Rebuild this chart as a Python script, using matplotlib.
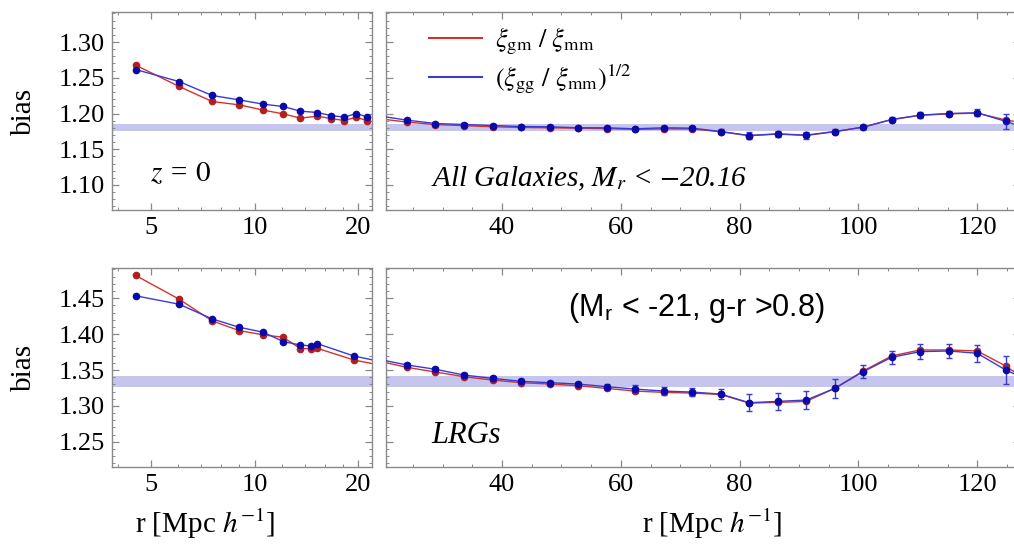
import matplotlib
matplotlib.use("Agg")
import matplotlib.pyplot as plt
import numpy as np
from matplotlib.ticker import FixedLocator, FuncFormatter, MultipleLocator

plt.rcParams['font.family'] = ['Liberation Serif', 'DejaVu Serif']
plt.rcParams['mathtext.fontset'] = 'stix'

# small scales (log r), all galaxies
r_small = [4.51, 6.03, 7.52, 9.01, 10.59, 12.1, 13.56, 15.2, 16.6, 18.2, 19.7, 21.2]
gm_small = [1.2676, 1.2378, 1.2168, 1.2121, 1.2047, 1.1995, 1.1935, 1.1963, 1.1930, 1.1902, 1.1949, 1.1898]
gg_small = [1.2615, 1.2447, 1.2252, 1.2191, 1.2130, 1.2098, 1.2033, 1.2014, 1.1972, 1.1949, 1.2000, 1.1953]

# small scales (log r), LRGs
r_small_lrg = [4.51, 6.03, 7.52, 9.01, 10.59, 12.1, 13.56, 14.53, 15.17, 19.38, 23.0]
gm_small_lrg = [1.4816, 1.4486, 1.4184, 1.4049, 1.3989, 1.3956, 1.3798, 1.3798, 1.3803, 1.3640, 1.3570]
gg_small_lrg = [1.4533, 1.4416, 1.4212, 1.4095, 1.4026, 1.3895, 1.3849, 1.3835, 1.3868, 1.3696, 1.3620]

# large scales (linear r), 4.8 Mpc/h bins
r_large = [19.2, 24.0, 28.8, 33.6, 38.4, 43.2, 48.0, 52.8, 57.6, 62.4, 67.2, 72.0, 76.8,
           81.6, 86.4, 91.2, 96.0, 100.8, 105.6, 110.4, 115.2, 120.0, 124.8, 129.6]

gm_all = [1.1928, 1.1880, 1.1845, 1.1830, 1.1815, 1.1805, 1.1800, 1.1795, 1.1788, 1.1778, 1.1785, 1.1783,
          1.1745, 1.1690, 1.1712, 1.1693, 1.1745, 1.1810, 1.1915, 1.1975, 1.1995, 1.2005, 1.1910, 1.1840]
gg_all = [1.1968, 1.1907, 1.1860, 1.1846, 1.1832, 1.1818, 1.1814, 1.1800, 1.1800, 1.1786, 1.1800, 1.1795,
          1.1748, 1.1692, 1.1716, 1.1697, 1.1748, 1.1809, 1.1916, 1.1977, 1.2000, 1.2010, 1.1890, 1.1760]
err_all = [0.002, 0.002, 0.002, 0.002, 0.002, 0.002, 0.002, 0.002, 0.002, 0.002, 0.002, 0.0025,
           0.003, 0.0045, 0.0045, 0.005, 0.004, 0.003, 0.003, 0.004, 0.004, 0.005, 0.0105, 0.011]

gm_lrg = [1.3625, 1.3537, 1.3472, 1.3407, 1.3360, 1.3324, 1.3305, 1.3282, 1.3244, 1.3207, 1.3189, 1.3179,
          1.3160, 1.3040, 1.3049, 1.3063, 1.3244, 1.3486, 1.3696, 1.3779, 1.3779, 1.3765, 1.3556, 1.3280]
gg_lrg = [1.3650, 1.3570, 1.3510, 1.3430, 1.3384, 1.3342, 1.3324, 1.3305, 1.3268, 1.3235, 1.3207, 1.3193,
          1.3165, 1.3045, 1.3063, 1.3082, 1.3244, 1.3477, 1.3677, 1.3756, 1.3765, 1.3733, 1.3500, 1.3320]
err_lrg = [0.003, 0.003, 0.003, 0.003, 0.003, 0.003, 0.003, 0.003, 0.004, 0.005, 0.006, 0.006,
           0.007, 0.0115, 0.012, 0.012, 0.0135, 0.009, 0.009, 0.01, 0.01, 0.012, 0.02, 0.02]

# linear-theory bias bands
band_all = (1.175, 1.186)
band_lrg = (1.327, 1.342)

RED_LINE, RED_PT = '#d2342c', '#b3201c'
BLUE_LINE, BLUE_PT = '#3a3ad6', '#0a0aa8'
BAND = '#c5c5ee'
FRAME = '#8a8a8a'

fig = plt.figure(figsize=(10.14, 5.46), dpi=100)
W, H = 1014.0, 546.0


def px_axes(x0, y0, x1, y1):
    return fig.add_axes([x0 / W, 1 - y1 / H, (x1 - x0) / W, (y1 - y0) / H])


ax_tl = px_axes(112, 12, 372, 210)
ax_tr = px_axes(386, 12, 1020, 210)
ax_bl = px_axes(112, 268, 372, 467)
ax_br = px_axes(386, 268, 1020, 467)


def style(ax, ylim, logx):
    for s in ax.spines.values():
        s.set_color(FRAME)
        s.set_linewidth(1.0)
    ax.set_ylim(*ylim)
    ax.yaxis.set_major_locator(MultipleLocator(0.05))
    ax.yaxis.set_minor_locator(MultipleLocator(0.01))
    ax.yaxis.set_major_formatter(FuncFormatter(lambda v, p: f"{v:.2f}"))
    if logx:
        ax.set_xscale('log')
        ax.set_xlim(3.85, 21.9)
        ax.xaxis.set_major_locator(FixedLocator([5, 10, 20]))
        ax.xaxis.set_minor_locator(FixedLocator([4, 6, 7, 8, 9, 12, 14, 16, 18]))
        ax.xaxis.set_major_formatter(FuncFormatter(lambda v, p: f"{v:g}"))
        ax.xaxis.set_minor_formatter(FuncFormatter(lambda v, p: ""))
    else:
        ax.set_xlim(20.47, 127.2)
        ax.xaxis.set_major_locator(MultipleLocator(20))
        ax.xaxis.set_minor_locator(MultipleLocator(5))
    ax.tick_params(which='both', direction='in', top=True, right=True,
                   color=FRAME, labelsize=19, labelcolor='black')
    ax.tick_params(which='major', length=5, width=0.9, pad=5)
    ax.tick_params(which='minor', length=2.5, width=0.7)


def draw_small(ax, r, gm, gg, band):
    ax.axhspan(*band, color=BAND, lw=0, zorder=1)
    ax.plot(r, gm, '-', color=RED_LINE, lw=1.0, zorder=2)
    ax.plot(r, gm, 'o', color=RED_PT, ms=4.5, zorder=3)
    ax.plot(r, gg, '-', color=BLUE_LINE, lw=1.0, zorder=4)
    ax.plot(r, gg, 'o', color=BLUE_PT, ms=4.5, zorder=5)


def draw_large(ax, r, gm, gg, err, band):
    ax.axhspan(*band, color=BAND, lw=0, zorder=1)
    ax.plot(r, gm, '-', color=RED_LINE, lw=1.0, zorder=2)
    ax.plot(r, gm, 'o', color=RED_PT, ms=4.5, zorder=3)
    ax.plot(r, gg, '-', color=BLUE_LINE, lw=1.0, zorder=4)
    ax.errorbar(r, gg, yerr=err, fmt='o', color=BLUE_PT, ms=4.5, elinewidth=1.0,
                capsize=2.5, capthick=1.0, ecolor=BLUE_LINE, zorder=5)


draw_small(ax_tl, r_small, gm_small, gg_small, band_all)
draw_small(ax_bl, r_small_lrg, gm_small_lrg, gg_small_lrg, band_lrg)
draw_large(ax_tr, r_large, gm_all, gg_all, err_all, band_all)
draw_large(ax_br, r_large, gm_lrg, gg_lrg, err_lrg, band_lrg)

style(ax_tl, (1.065, 1.342), True)
style(ax_tr, (1.065, 1.342), False)
style(ax_bl, (1.215, 1.492), True)
style(ax_br, (1.215, 1.492), False)
ax_tr.set_yticklabels([])
ax_br.set_yticklabels([])

for ax in (ax_tl, ax_bl):
    ax.set_ylabel('bias', fontsize=21)
    ax.yaxis.set_label_coords(-0.288, 0.5)
ax_bl.set_xlabel(r'r [Mpc $h^{-1}$]', fontsize=21)
ax_bl.xaxis.set_label_coords(0.358, -0.2)
ax_br.set_xlabel(r'r [Mpc $h^{-1}$]', fontsize=21)
ax_br.xaxis.set_label_coords(0.514, -0.2)

ax_tl.text(0.146, 0.18, r'$z$ = $\mathit{0}$', transform=ax_tl.transAxes,
           fontsize=21, style='italic', va='center')
ax_tr.text(0.071, 0.155, r'All Galaxies, $M_r$ < $-$20.16', transform=ax_tr.transAxes,
           fontsize=21, style='italic', va='center')
ax_br.text(0.071, 0.16, 'LRGs', transform=ax_br.transAxes,
           fontsize=22, style='italic', va='center')
ax_br.text(0.489, 0.80, r'(M$_\mathregular{r}$ < -21, g-r >0.8)', transform=ax_br.transAxes,
           fontsize=22, family=['Liberation Sans', 'DejaVu Sans'], ha='center', va='center')

h_red, = ax_tr.plot([], [], color=RED_LINE, lw=1.5)
h_blue, = ax_tr.plot([], [], color=BLUE_LINE, lw=1.5)
ax_tr.legend([h_red, h_blue],
             [r'$\xi_{\rm gm}\ /\ \xi_{\rm mm}$', r'$(\xi_{\rm gg}\ /\ \xi_{\rm mm})^{1/2}$'],
             loc='upper left', bbox_to_anchor=(0.03, 1.05), frameon=False, fontsize=19,
             handlelength=2.0, handletextpad=0.5, labelspacing=0.2)

fig.savefig('out.png', dpi=100)
